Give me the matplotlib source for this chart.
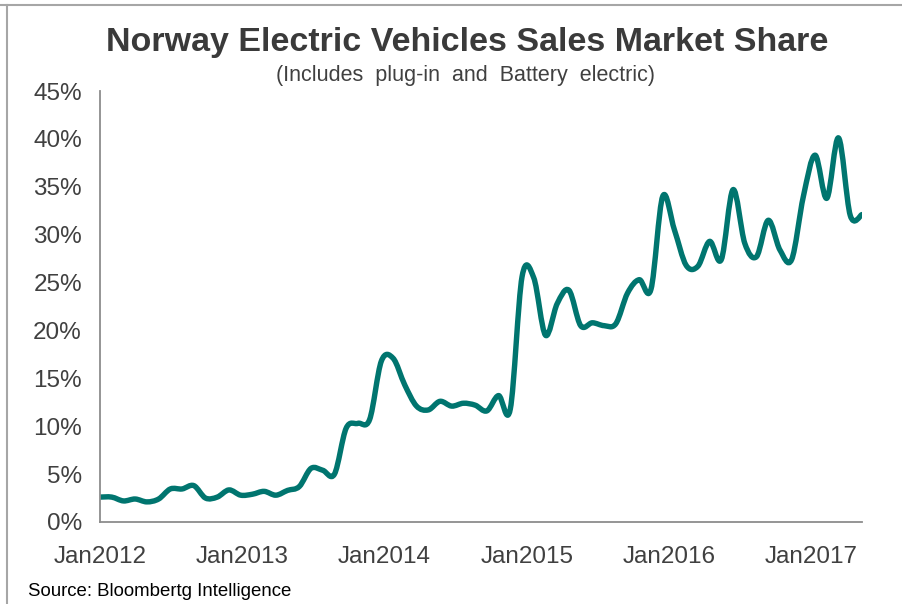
import numpy as np
import matplotlib
matplotlib.use("Agg")
import matplotlib.pyplot as plt
from matplotlib.path import Path
from matplotlib.patches import PathPatch
from matplotlib.lines import Line2D

# ---- data -------------------------------------------------------------
share_pct = [
    2.6, 2.6, 2.2, 2.4, 2.1, 2.4, 3.45, 3.45, 3.8, 2.5,
    2.6, 3.35, 2.8, 2.9, 3.2, 2.8, 3.3, 3.7, 5.6, 5.4,
    5.0, 9.8, 10.3, 10.7, 16.8, 17.1, 14.3, 12.1, 11.7, 12.6,
    12.1, 12.4, 12.2, 11.6, 13.2, 11.8, 25.6, 25.5, 19.5, 22.8,
    24.2, 20.5, 20.8, 20.5, 20.7, 23.9, 25.3, 24.3, 34.0, 30.5,
    26.8, 26.7, 29.3, 27.4, 34.7, 29.1, 27.7, 31.5, 28.4, 27.4,
    34.0, 38.3, 33.8, 40.1, 32.0, 32.1,
]
year_labels = ["Jan2012", "Jan2013", "Jan2014", "Jan2015", "Jan2016", "Jan2017"]
y_ticks = [0, 5, 10, 15, 20, 25, 30, 35, 40, 45]

title = "Norway Electric Vehicles Sales Market Share"
subtitle = "(Includes  plug-in  and  Battery  electric)"
source = "Source: Bloombertg Intelligence"

# ---- layout / style ----------------------------------------------------
LINE_COLOR = "#00756F"
TEXT_COLOR = "#404040"
SPINE_COLOR = "#8C8C8C"
FONT = "Liberation Sans"

n = len(share_pct)
x = np.arange(n, dtype=float)
y = np.array(share_pct, dtype=float)

fig = plt.figure(figsize=(9.02, 6.04), dpi=100)
ax = fig.add_axes([100 / 902, 82 / 604, 762 / 902, 431 / 604])

# Smoothed line (Excel-style Catmull-Rom via cubic Bezier segments)
verts = [(x[0], y[0])]
codes = [Path.MOVETO]
for i in range(n - 1):
    p0 = (x[i - 1], y[i - 1]) if i > 0 else (x[i], y[i])
    p1 = (x[i], y[i])
    p2 = (x[i + 1], y[i + 1])
    p3 = (x[i + 2], y[i + 2]) if i + 2 < n else (x[i + 1], y[i + 1])
    c1 = (p1[0] + (p2[0] - p0[0]) / 6, p1[1] + (p2[1] - p0[1]) / 6)
    c2 = (p2[0] - (p3[0] - p1[0]) / 6, p2[1] - (p3[1] - p1[1]) / 6)
    verts += [c1, c2, p2]
    codes += [Path.CURVE4] * 3
patch = PathPatch(Path(verts, codes), fill=False, edgecolor=LINE_COLOR,
                  linewidth=3.9, capstyle="round", joinstyle="round")
ax.add_patch(patch)

ax.set_xlim(0, n - 1)
ax.set_ylim(0, 45)

# tick positions: one per year, spacing matches reference (~12.14 pts / yr)
pts_per_year = (n - 1) / 5.355
ax.set_xticks([i * pts_per_year for i in range(len(year_labels))])
ax.set_xticklabels(year_labels)
ax.set_yticks(y_ticks)
ax.set_yticklabels([f"{v}%" for v in y_ticks])

for lbl in ax.get_xticklabels() + ax.get_yticklabels():
    lbl.set_fontfamily(FONT)
    lbl.set_fontsize(17.5)
    lbl.set_color(TEXT_COLOR)

ax.tick_params(axis="both", length=0)
ax.tick_params(axis="x", pad=17)
ax.tick_params(axis="y", pad=13)

for side in ("top", "right"):
    ax.spines[side].set_visible(False)
for side in ("left", "bottom"):
    ax.spines[side].set_color(SPINE_COLOR)
    ax.spines[side].set_linewidth(1.3)

# Titles and source
fig.text(467 / 902, 1 - 42 / 604, title, ha="center", va="center",
         fontsize=24.5, fontweight="bold", color="#3A3A3A", family=FONT)
fig.text(466 / 902, 1 - 75 / 604, subtitle, ha="center", va="center",
         fontsize=15.5, color=TEXT_COLOR, family=FONT)
fig.text(28 / 902, 1 - 591 / 604, source, ha="left", va="center",
         fontsize=13.4, color="#000000", family=FONT)

# frame lines at top and left
fig.add_artist(Line2D([0, 1], [1 - 4.5 / 604] * 2, transform=fig.transFigure,
                      color="#A6A6A6", linewidth=1.5))
fig.add_artist(Line2D([7.5 / 902] * 2, [0, 1 - 4.5 / 604], transform=fig.transFigure,
                      color="#A6A6A6", linewidth=1.5))

fig.savefig("out.png", dpi=100, facecolor="white")
